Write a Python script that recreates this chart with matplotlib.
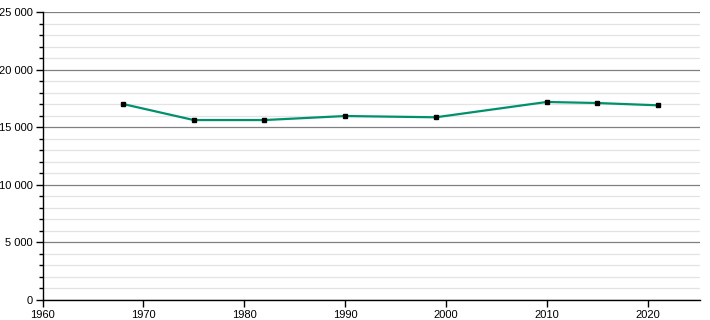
import matplotlib
matplotlib.use("Agg")
import matplotlib.pyplot as plt
from matplotlib.ticker import MultipleLocator, FuncFormatter

#population by census year
years = [1968, 1975, 1982, 1990, 1999, 2010, 2015, 2021]
population = [17010, 15620, 15620, 15970, 15860, 17190, 17100, 16900]

plt.rcParams['font.family'] = ['Liberation Sans', 'DejaVu Sans']

fig = plt.figure(figsize=(7.1, 3.2), dpi=100)
ax = fig.add_axes([42.5 / 710, 20 / 320, 657.5 / 710, 288 / 320])

ax.plot(years, population, color="#00916c", linewidth=1.6, zorder=3)
ax.plot(years, population, linestyle="none", marker="s", markersize=3.2,
        color="black", zorder=4)

ax.set_xlim(1960, 2025.2)
ax.set_ylim(0, 25000)

ax.xaxis.set_major_locator(MultipleLocator(10))
ax.yaxis.set_major_locator(MultipleLocator(5000))
ax.yaxis.set_minor_locator(MultipleLocator(1000))
ax.yaxis.set_major_formatter(FuncFormatter(lambda v, p: f"{int(v):,}".replace(",", " ")))

ax.grid(which="major", axis="y", color="#808080", linewidth=0.9, zorder=1)
ax.grid(which="minor", axis="y", color="#e3e3e3", linewidth=0.9, zorder=1)

for s in ["top", "right"]:
    ax.spines[s].set_visible(False)
ax.spines["left"].set_linewidth(1.0)
ax.spines["bottom"].set_linewidth(1.0)

ax.tick_params(axis="both", which="major", direction="out", length=5, width=1,
               labelsize=8, pad=2, colors="black")
ax.tick_params(axis="y", which="minor", direction="out", length=3, width=1)

fig.savefig("out.png", dpi=100)
